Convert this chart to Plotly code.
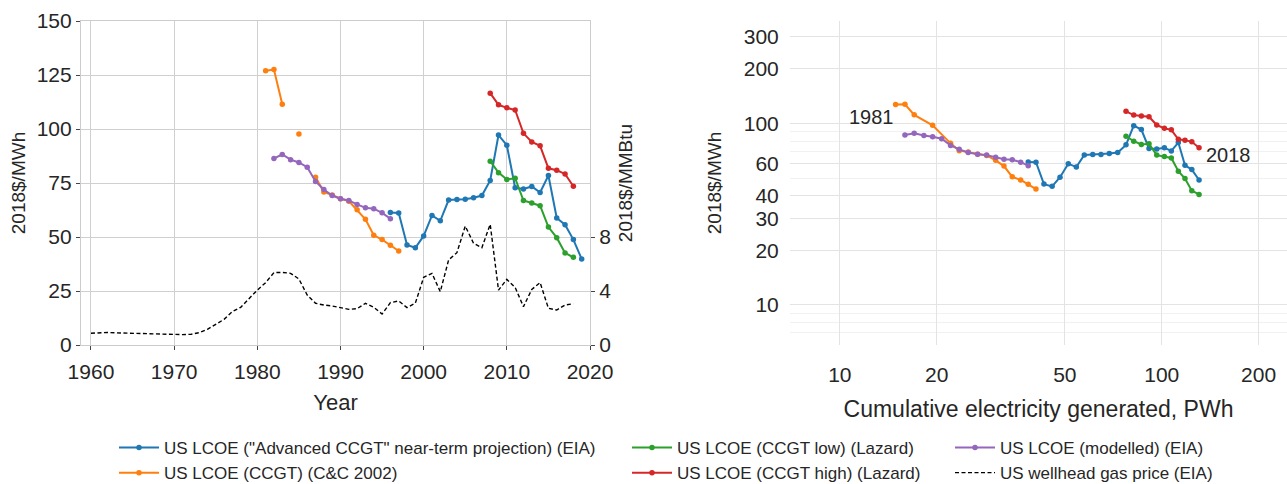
import math
import plotly.graph_objects as go

# ---------------- data ----------------
years = list(range(1981, 2020))  # 1981..2019

lcoe_cc2002 = [127.0, 127.5, 111.5, None, 97.7, None, 77.7, 70.8, 69.5, 67.7, 66.6, 62.6, 58.2,
               50.8, 48.8, 46.2, 43.5] + [None] * 22
lcoe_modelled = [None, 86.4, 88.2, 85.8, 84.5, 82.3, 75.7, 72.0, 69.2, 67.7, 66.9, 65.1, 63.5,
                 63.1, 61.2, 58.5] + [None] * 23
lcoe_eia_adv = [None] * 15 + [61.4, 61.1, 46.3, 45.0, 50.5, 60.0, 57.5, 67.1, 67.4, 67.5, 68.2,
                              69.2, 76.2, 97.2, 92.5, 72.8, 72.2, 73.4, 70.6, 78.5, 58.8, 55.7,
                              48.8, 39.8]
lcoe_lazard_low = [None] * 27 + [85.1, 79.8, 76.6, 77.2, 66.9, 65.7, 64.5, 54.6, 49.7, 42.6, 40.6, None]
lcoe_lazard_high = [None] * 27 + [116.6, 111.2, 109.8, 108.8, 98.0, 94.0, 92.2, 81.8, 80.9, 79.2,
                                  73.5, None]

# cumulative electricity generated (PWh) for 1981..2018 (2019 not available)
cum_pwh = [14.9, 15.93, 17.02, 18.24, 19.42, 20.71, 22.08, 23.49, 25.05, 26.79, 28.58, 30.48,
           32.35, 34.32, 36.45, 38.48, 40.67, 43.06, 45.65, 48.3, 51.25, 54.27, 57.46, 61.04,
           64.76, 68.71, 72.98, 77.45, 81.84, 86.43, 91.3, 96.5, 101.9, 107.1, 112.6, 118.1,
           124.0, 130.6, None]

gas_years = list(range(1960, 2019))
gas_price = [0.87, 0.90, 0.93, 0.90, 0.88, 0.88, 0.88, 0.86, 0.84, 0.81,
             0.77, 0.77, 0.79, 0.91, 1.16, 1.56, 1.90, 2.47, 2.79, 3.43,
             4.07, 4.62, 5.36, 5.38, 5.31, 4.89, 3.70, 3.09, 2.96, 2.89,
             2.79, 2.64, 2.69, 3.09, 2.79, 2.30, 3.14, 3.26, 2.77, 3.10,
             5.01, 5.31, 3.95, 6.30, 6.84, 8.81, 7.53, 7.21, 8.94, 4.07,
             4.86, 4.27, 2.84, 4.12, 4.62, 2.72, 2.59, 2.96, 3.06]

series = [
    ("US LCOE (\"Advanced CCGT\" near-term projection) (EIA)", lcoe_eia_adv, "#1f77b4", "legend"),
    ("US LCOE (CCGT) (C&C 2002)", lcoe_cc2002, "#ff7f0e", "legend"),
    ("US LCOE (CCGT low) (Lazard)", lcoe_lazard_low, "#2ca02c", "legend2"),
    ("US LCOE (CCGT high) (Lazard)", lcoe_lazard_high, "#d62728", "legend2"),
    ("US LCOE (modelled) (EIA)", lcoe_modelled, "#9467bd", "legend3"),
]

W, H = 1287, 484
T = 21
LEG_TOP = 430          # legend top (px); container-ref legends reserve H - LEG_TOP at bottom
PAPER_BOTTOM = LEG_TOP
PH = PAPER_BOTTOM - T
FONT = "Arial, Liberation Sans, sans-serif"
TXT = "#262626"


def px_x(p):
    return p / W


def px_y(p):
    return (PAPER_BOTTOM - p) / PH


fig = go.Figure()

for name, vals, col, lg in series:
    fig.add_trace(go.Scatter(
        x=years, y=vals, name=name, mode="lines+markers",
        line=dict(color=col, width=2), marker=dict(color=col, size=5.5),
        xaxis="x", yaxis="y", legend=lg, connectgaps=False))

fig.add_trace(go.Scatter(
    x=gas_years, y=gas_price, name="US wellhead gas price (EIA)", mode="lines",
    line=dict(color="black", width=1.4, dash="4px,2.5px"),
    xaxis="x", yaxis="y2", legend="legend3"))

# right panel: LCOE vs cumulative generation
for name, vals, col, lg in series:
    xs, ys = [], []
    for c, v in zip(cum_pwh, vals):
        if c is not None and v is not None:
            xs.append(c)
            ys.append(v)
    fig.add_trace(go.Scatter(
        x=xs, y=ys, name=name, mode="lines+markers", showlegend=False,
        line=dict(color=col, width=2), marker=dict(color=col, size=5.5),
        xaxis="x2", yaxis="y3"))

y_dom = [px_y(345), 1]
x_left_dom = [px_x(81), px_x(590)]
x_right_dom = [px_x(790), 1]

tickfont = dict(family=FONT, size=21, color=TXT)
htitle = dict(family=FONT, size=22, color=TXT)
htitle2 = dict(family=FONT, size=23, color=TXT)
vtitle = dict(family=FONT, size=19, color=TXT)

fig.update_layout(
    width=W, height=H, margin=dict(l=0, r=0, t=T, b=0),
    paper_bgcolor="white", plot_bgcolor="white",
    font=dict(family=FONT, color=TXT),
    xaxis=dict(domain=x_left_dom, range=[1958.8, 2020], tickvals=[1960, 1970, 1980, 1990, 2000, 2010, 2020],
               showgrid=True, gridcolor="#d0d0d0", gridwidth=1.2, zeroline=False,
               showline=True, linecolor="#cccccc", linewidth=1.2, mirror=True, automargin=False,
               ticks="outside", ticklen=4, tickcolor="#444", tickfont=tickfont, ticklabelstandoff=4,
               title=dict(text="Year", font=htitle, standoff=12), anchor="y"),
    yaxis=dict(domain=y_dom, range=[0, 150], tickvals=[0, 25, 50, 75, 100, 125, 150],
               showgrid=True, gridcolor="#d0d0d0", gridwidth=1.2, zeroline=False,
               showline=True, linecolor="#cccccc", linewidth=1.2, mirror=True, automargin=False,
               ticks="outside", ticklen=4, tickcolor="#444", tickfont=tickfont,
               title=dict(text="2018$/MWh", font=vtitle, standoff=6), anchor="x"),
    yaxis2=dict(overlaying="y", side="right", anchor="x", range=[0, 24], tickvals=[0, 4, 8],
                showgrid=False, zeroline=False, showline=False, automargin=False,
                ticks="outside", ticklen=4, tickcolor="#444", tickfont=tickfont,
                title=dict(text="2018$/MMBtu", font=vtitle, standoff=8)),
    xaxis2=dict(domain=x_right_dom, type="log", range=[math.log10(7), math.log10(245)],
                tickvals=[10, 20, 50, 100, 200], ticktext=["10", "20", "50", "100", "200"],
                showgrid=True, gridcolor="#e3e3e3", gridwidth=1.3, zeroline=False, showline=False,
                automargin=False,
                ticks="outside", ticklen=11, tickcolor="rgba(0,0,0,0)", tickfont=tickfont,
                title=dict(text="Cumulative electricity generated, PWh", font=htitle2, standoff=15),
                anchor="y3"),
    yaxis3=dict(domain=y_dom, type="log", range=[math.log10(6.01), math.log10(367)],
                tickvals=[10, 20, 30, 40, 60, 100, 200, 300],
                ticktext=["10", "20", "30", "40", "60", "100", "200", "300"],
                showgrid=True, gridcolor="#e3e3e3", gridwidth=1.3, zeroline=False, showline=False,
                automargin=False,
                ticks="outside", ticklen=6, tickcolor="rgba(0,0,0,0)", tickfont=tickfont,
                minor=dict(dtick="D1", showgrid=True, gridcolor="#f1f1f1", gridwidth=1, ticks=""),
                title=dict(text="2018$/MWh", font=vtitle, standoff=17), anchor="x2"),
    annotations=[
        dict(x=math.log10(14.9), y=math.log10(108), xref="x2", yref="y3", text="1981",
             showarrow=False, xanchor="right", yanchor="middle", font=dict(family=FONT, size=20, color=TXT)),
        dict(x=math.log10(135.5), y=math.log10(67.4), xref="x2", yref="y3", text="2018",
             showarrow=False, xanchor="left", yanchor="middle", font=dict(family=FONT, size=20, color=TXT)),
    ],
)

legfont = dict(family=FONT, size=17, color=TXT)
common = dict(orientation="v", font=legfont, bgcolor="rgba(0,0,0,0)", borderwidth=0,
              xref="paper", yref="container", xanchor="left", yanchor="top",
              itemwidth=40, tracegroupgap=0)
ly = 1 - LEG_TOP / H
fig.update_layout(
    legend=dict(x=px_x(114), y=ly, **common),
    legend2=dict(x=px_x(627), y=ly, **common),
    legend3=dict(x=px_x(950), y=ly, **common),
)

fig.write_html("out.html")
